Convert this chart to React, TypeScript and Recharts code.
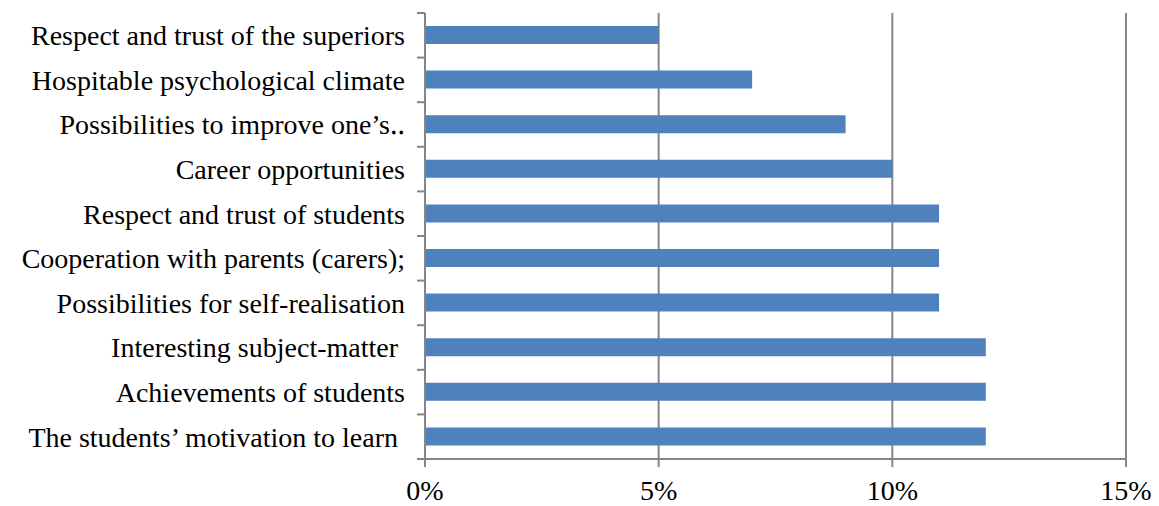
import React from "react";
import { BarChart, Bar, XAxis, YAxis, CartesianGrid } from "recharts";

// categories top to bottom
const categories = [
  "Respect and trust of the superiors",
  "Hospitable psychological climate",
  "Possibilities to improve one\u2019s\u2025",
  "Career opportunities",
  "Respect and trust of students",
  "Cooperation with parents (carers);",
  "Possibilities for self-realisation",
  "Interesting subject-matter ",
  "Achievements of students",
  "The students\u2019 motivation to learn ",
];
const shares = [5, 7, 9, 10, 11, 11, 11, 12, 12, 12];
const xTicks = [0, 5, 10, 15];

const data = categories.map((name, i) => ({ name, value: shares[i] }));

const W = 1159;
const H = 506;
const M = { top: 13, right: 33, left: 0, bottom: 0 };
const Y_W = 425;
const X_H = 47;
const AXIS = "#868686";
const FONT = "'Liberation Serif', 'Times New Roman', serif";
const FS = 28;
const halfBand = (H - M.top - X_H) / categories.length / 2;

const CatTick = (props: any) => {
  const { x, y, payload, index } = props;
  const ax = x + 8;
  return (
    <g>
      <line x1={ax - 8} x2={ax} y1={y - halfBand} y2={y - halfBand} stroke={AXIS} strokeWidth={2} />
      {index === categories.length - 1 && (
        <line x1={ax - 8} x2={ax} y1={y + halfBand} y2={y + halfBand} stroke={AXIS} strokeWidth={2} />
      )}
      <text x={ax - 20} y={y} dy="0.35em" textAnchor="end" fontSize={FS} fill="#000" fontFamily={FONT} style={{ whiteSpace: "pre" }}>
        {payload.value}
      </text>
    </g>
  );
};

export default function App() {
  return (
    <div style={{ position: "absolute", left: 0, top: 0, background: "#fff" }}>
      <BarChart width={W} height={H} data={data} layout="vertical" margin={M}>
        <CartesianGrid horizontal={false} stroke={AXIS} strokeWidth={2} />
        <XAxis
          type="number"
          domain={[0, 15]}
          ticks={xTicks}
          tickFormatter={(v) => `${v}%`}
          height={X_H}
          stroke={AXIS}
          strokeWidth={2}
          tickSize={8}
          tickMargin={13}
          tick={{ fill: "#000", fontSize: FS, fontFamily: FONT }}
        />
        <YAxis
          type="category"
          dataKey="name"
          width={Y_W}
          stroke={AXIS}
          strokeWidth={2}
          tickLine={false}
          tick={<CatTick />}
          interval={0}
        />
        <Bar dataKey="value" fill="#4F81BD" barSize={18} isAnimationActive={false} />
      </BarChart>
    </div>
  );
}
